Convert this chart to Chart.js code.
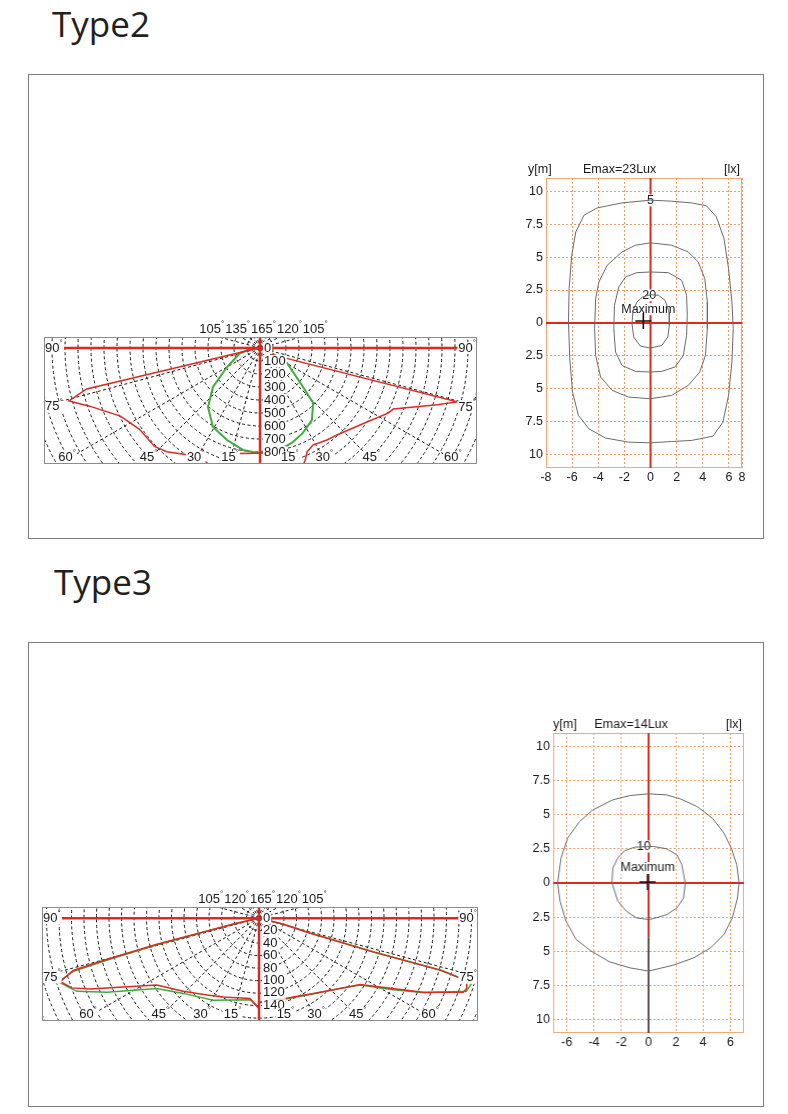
<!DOCTYPE html>
<html>
<head>
<meta charset="utf-8">
<script src="https://cdn.jsdelivr.net/npm/chart.js@4.4.0/dist/chart.umd.min.js"></script>
<style>
  body { margin: 0; background: #fff; width: 788px; height: 1114px; position: relative; overflow: hidden; }
  .title { position: absolute; font-family: "Open Sans", sans-serif; font-size: 35px; line-height: 35px; color: #231f20; }
  .panel { position: absolute; left: 28px; width: 734px; border: 1px solid #7a7a7a; }
  canvas { position: absolute; }
</style>
</head>
<body>
<div class="title" style="left:52px; top:6px;">Type2</div>
<div class="panel" style="top:74px; height:463px;"></div>
<div class="title" style="left:54px; top:564px;">Type3</div>
<div class="panel" style="top:642px; height:463px;"></div>

<script>
// ---- Type2 light distribution (angle from nadir in degrees, intensity in cd) ----
const t2RedLeftAngle  = [90, 78, 76.7, 74.5, 71, 64, 56, 47, 42, 30, 23, 18, 15, 12, 0];
const t2RedLeftCd     = [0, 50, 1370, 1525, 1380, 1195, 1118, 1110, 1073, 962, 979, 931, 1000, 830, 810];
const t2RedRightAngle = [90, 62, 74.7, 72.2, 65.4, 63, 52.4, 41.5, 36, 28.6, 24.3, 22, 19, 16, 12, 0];
const t2RedRightCd    = [0, 113, 1571, 1430, 1128, 1105, 970, 893, 875, 850, 878, 930, 980, 830, 815, 810];
const t2GreenLeftAngle  = [90, 85, 76, 60, 50.3, 41.4, 30.8, 19.7, 9.5, 3.9, 0];
const t2GreenLeftCd     = [0, 60, 158, 293, 470, 605, 707, 752, 795, 802, 805];
const t2GreenRightAngle = [90, 80, 68, 61, 47.8, 44, 35.8, 26.8, 19.3, 14.2, 0];
const t2GreenRightCd    = [0, 40, 83, 238, 447, 588, 683, 732, 766, 785, 800];
const t2CdTicks = [0, 100, 200, 300, 400, 500, 600, 700, 800];
const t2TopAngles = ["105", "135", "165", "120", "105"];

// ---- Type3 light distribution ----
const t3RedLeftAngle  = [90, 77, 76, 75.6, 74.8, 74.2, 72.2, 69.5, 67.1, 63, 56.7, 45.9, 34, 24.3, 6.4, 0];
const t3RedLeftCd     = [0, 40, 90, 170, 253, 309, 334, 320, 293, 244, 196, 169, 149, 139, 130, 145];
const t3GreenLeftAngle = [90, 77, 75.8, 75.3, 74.5, 73.9, 72.3, 68, 63.9, 55.4, 45, 29, 6.2, 0];
const t3GreenLeftCd    = [0, 40, 90, 170, 253, 310, 337, 314, 271, 199, 171, 151, 132, 145];
const t3RedRightAngle = [90, 76, 73.6, 73.4, 73.9, 73.3, 71.2, 70, 65.6, 61.7, 56.6, 48.9, 35.7, 19, 0];
const t3RedRightCd    = [0, 40, 80, 191, 301, 347, 351, 348, 288, 238, 194, 172, 149, 136, 135];
const t3GreenRightAngle = [90, 76, 73.8, 73.6, 74, 72.9, 70.5, 65.6, 61.5, 56.5, 49, 36, 19, 0];
const t3GreenRightCd    = [0, 45, 85, 195, 305, 356, 352, 290, 240, 195, 172, 150, 137, 136];
const t3CdTicks = [0, 20, 40, 60, 80, 100, 120, 140];
const t3TopAngles = ["105", "120", "165", "120", "105"];

const sideAngles = [90, 75, 60, 45, 30, 15];

// ---- Type2 isolux (x, y in m) ----
const t2Iso5X  = [0, 1.62, 3.14, 4.28, 5.04, 5.62, 5.97, 6.23, 6.33, 6.23, 5.97, 5.54, 4.78, 3.14, 1.62, 0, -1.67, -3.44, -4.71, -5.52, -5.97, -6.18, -6.28, -6.23, -6.03, -5.72, -5.09, -4.08, -2.18];
const t2Iso5Y  = [9.32, 9.24, 9.11, 8.89, 8.05, 6.41, 4.13, 1.6, -0.43, -2.96, -5.49, -7.52, -8.58, -8.91, -8.99, -9.09, -9.04, -8.73, -8.03, -7.01, -5.24, -2.71, 0.08, 2.61, 5.14, 6.91, 8.18, 8.73, 9.11];
const t2Iso10X = [0, 1.62, 2.89, 3.65, 4.15, 4.35, 4.35, 4.2, 3.77, 2.89, 1.62, 0, -1.67, -2.94, -3.82, -4.2, -4.28, -4.2, -3.95, -3.32, -2.18, -1.16];
const t2Iso10Y = [6.08, 5.9, 5.39, 4.63, 3.37, 1.6, -0.43, -2.46, -3.72, -4.73, -5.49, -5.75, -5.62, -5.11, -4.1, -2.46, -0.43, 1.85, 3.11, 4.38, 5.39, 5.9];
const t2Iso15X = [0, 1.37, 2.38, 2.76, 2.81, 2.76, 2.51, 1.87, 0.86, 0, -1.16, -2.18, -2.68, -2.81, -2.76, -2.43, -1.92, -1.04];
const t2Iso15Y = [3.87, 3.82, 3.24, 2.1, 0.58, -0.94, -2.46, -3.34, -3.67, -3.72, -3.67, -3.22, -2.2, -0.43, 1.34, 2.73, 3.49, 3.82];
const t2Iso20X = [0.61, 1.11, 1.42, 1.44, 1.32, 0.86, 0, -0.78, -1.29, -1.42, -1.34, -1.04, -0.61, 0];
const t2Iso20Y = [2.1, 1.72, 0.84, -0.18, -1.06, -1.7, -1.9, -1.75, -1.06, -0.05, 0.96, 1.6, 1.97, 2.15];
const t2MaxX = [-0.55], t2MaxY = [0.15];
const t2XTicks = [-8, -6, -4, -2, 0, 2, 4, 6, 7];
const t2XTickLabels = ["-8", "-6", "-4", "-2", "0", "2", "4", "6", "8"];

// ---- Type3 isolux ----
const t3Iso5X  = [0, 1.33, 2.32, 3.56, 4.67, 5.53, 6.07, 6.47, 6.64, 6.52, 6.15, 5.53, 4.54, 3.31, 1.83, 0, -1.38, -2.86, -4.2, -5.31, -6.05, -6.49, -6.67, -6.42, -5.93, -5.06, -4.07, -2.62, -1.38];
const t3Iso5Y  = [6.54, 6.46, 6.17, 5.61, 4.76, 3.66, 2.56, 1.34, 0, -1.1, -2.56, -3.78, -4.76, -5.49, -6.02, -6.46, -6.22, -5.78, -5.0, -4.15, -2.8, -1.34, 0, 1.83, 3.29, 4.51, 5.37, 6.1, 6.41];
const t3Iso10X = [0.35, 1.33, 2.07, 2.44, 2.69, 2.57, 2.07, 1.33, 0.35, 0, -0.89, -1.63, -2.25, -2.69, -2.62, -2.25, -1.75, -1.01];
const t3Iso10Y = [2.68, 2.51, 2.07, 1.34, 0, -1.1, -1.83, -2.32, -2.61, -2.68, -2.56, -2.07, -1.34, 0, 1.1, 1.83, 2.37, 2.63];
const t3MaxX = [-0.07], t3MaxY = [0.07];
const t3XTicks = [-6, -4, -2, 0, 2, 4, 6];
const t3XTickLabels = ["-6", "-4", "-2", "0", "2", "4", "6"];

const yTicks = [-10, -7.5, -5, -2.5, 0, 2.5, 5, 7.5, 10];

const RED = "#dc2a22";
const GREEN = "#3dac3a";
const FONT = '"Liberation Sans", Arial, sans-serif';
const DEG = Math.PI / 180;

function toXY(angles, cds, side) {
  return angles.map((a, i) => ({ x: side * cds[i] * Math.sin(a * DEG), y: -cds[i] * Math.cos(a * DEG) }));
}

function makeCanvas(left, top, w, h) {
  const c = document.createElement("canvas");
  c.width = w; c.height = h;
  c.style.left = left + "px"; c.style.top = top + "px";
  c.style.width = w + "px"; c.style.height = h + "px";
  document.body.appendChild(c);
  return c;
}

// text with a small raised degree sign
function degText(ctx, num, x, y, align, bg) {
  ctx.font = "13px " + FONT;
  const w1 = ctx.measureText(num).width;
  ctx.font = "8px " + FONT;
  const w2 = ctx.measureText("°").width;
  const w = w1 + w2;
  let x0 = align === "left" ? x : align === "right" ? x - w : x - w / 2;
  if (bg) { ctx.fillStyle = "#fff"; ctx.fillRect(x0 - 1, y - 6, w + 2, 12); }
  ctx.fillStyle = "#1a1a1a";
  ctx.textAlign = "left";
  ctx.textBaseline = "middle";
  ctx.font = "13px " + FONT;
  ctx.fillText(num, x0, y);
  ctx.font = "8px " + FONT;
  ctx.fillText("°", x0 + w1, y - 5);
  return w;
}

function polarChart(box, center, k, ringStep, ringMax, cdTicks, topAngles, curves) {
  const pad = { left: 8, top: 22, right: 8, bottom: 8 };
  const canvas = makeCanvas(box.l - pad.left, box.t - pad.top, box.r - box.l + pad.left + pad.right, box.b - box.t + pad.top + pad.bottom);

  const decor = {
    id: "polarDecor",
    beforeDatasetsDraw(chart) {
      const { ctx, chartArea: a, scales: { x, y } } = chart;
      const cx = x.getPixelForValue(0), cy = y.getPixelForValue(0);
      const rp = v => x.getPixelForValue(v) - cx;
      ctx.save();
      ctx.beginPath(); ctx.rect(a.left, a.top, a.width, a.height); ctx.clip();
      ctx.strokeStyle = "#161616"; ctx.lineWidth = 1; ctx.setLineDash([3, 2.5]);
      for (let r = ringStep; r <= ringMax; r += ringStep) {
        ctx.beginPath(); ctx.arc(cx, cy, rp(r), 0, 2 * Math.PI); ctx.stroke();
      }
      const R = rp(ringMax);
      for (let d = 15; d < 180; d += 15) {
        [-1, 1].forEach(s => {
          ctx.beginPath(); ctx.moveTo(cx, cy);
          ctx.lineTo(cx + s * R * Math.sin(d * DEG), cy + R * Math.cos(d * DEG)); ctx.stroke();
        });
      }
      ctx.restore();
    },
    afterDatasetsDraw(chart) {
      const { ctx, chartArea: a, scales: { x, y } } = chart;
      const cx = x.getPixelForValue(0), cy = y.getPixelForValue(0);
      ctx.save();
      // 90 degree axis
      ctx.strokeStyle = RED; ctx.lineWidth = 2.5;
      ctx.beginPath(); ctx.moveTo(a.left + 20, cy); ctx.lineTo(a.right - 11, cy); ctx.stroke();
      // intensity labels
      ctx.font = "13px " + FONT; ctx.textAlign = "left"; ctx.textBaseline = "middle";
      cdTicks.forEach(v => {
        const ty = y.getPixelForValue(-v), tx = cx + 4, s = String(v);
        const w = ctx.measureText(s).width;
        ctx.fillStyle = "#fff"; ctx.fillRect(tx - 1, ty - 6, w + 2, 12);
        ctx.fillStyle = "#1a1a1a"; ctx.fillText(s, tx, ty);
      });
      // angle labels
      sideAngles.forEach(d => {
        if (d === 90) {
          degText(ctx, "90", a.left + 1, cy, "left", true);
          degText(ctx, "90", a.right - 1, cy, "right", true);
        } else if (d === 75) {
          degText(ctx, "75", a.left + 1, cy + (cx - a.left) / Math.tan(d * DEG) + 1, "left", true);
          degText(ctx, "75", a.right - 1, cy + (a.right - cx) / Math.tan(d * DEG) + 1, "right", true);
        } else {
          const off = (a.bottom - cy) * Math.tan(d * DEG) * 0.96;
          degText(ctx, String(d), cx - off, a.bottom - 6.5, "center", true);
          degText(ctx, String(d), cx + off, a.bottom - 6.5, "center", true);
        }
      });
      // top labels
      ctx.font = "13px " + FONT;
      const wNum = topAngles.map(s => ctx.measureText(s).width);
      ctx.font = "8px " + FONT;
      const wDeg = ctx.measureText("°").width + 1;
      const total = wNum.reduce((p, c) => p + c + wDeg, 0);
      let tx = cx + 4 - total / 2;
      topAngles.forEach(s => { tx += degText(ctx, s, tx, a.top - 8, "left", false) + 1; });
      // nadir axis
      ctx.strokeStyle = RED; ctx.lineWidth = 2.5;
      ctx.beginPath(); ctx.moveTo(cx, a.top); ctx.lineTo(cx, a.bottom); ctx.stroke();
      // frame
      ctx.strokeStyle = "#8c8c8c"; ctx.lineWidth = 1;
      ctx.strokeRect(a.left + 0.5, a.top + 0.5, a.width - 1, a.height - 1);
      ctx.restore();
    }
  };

  return new Chart(canvas, {
    type: "scatter",
    data: {
      datasets: curves.map(c => ({
        data: toXY(c.angle, c.cd, c.side),
        showLine: true, borderColor: c.color, borderWidth: c.width,
        pointRadius: 0, tension: 0, clip: 0
      }))
    },
    options: {
      responsive: false, animation: false,
      layout: { padding: pad },
      plugins: { legend: { display: false }, tooltip: { enabled: false } },
      scales: {
        x: { type: "linear", display: false, min: -(center.x - box.l) / k, max: (box.r - center.x) / k },
        y: { type: "linear", display: false, min: -(box.b - center.y) / k, max: (center.y - box.t) / k }
      }
    },
    plugins: [decor]
  });
}

function isoChart(area, xRange, xTicks, xTickLabels, contours, maxX, maxY, labels, header, fadeFrom) {
  const pad = { left: 0, top: 20, right: 16, bottom: 4 };
  const yW = 32, xH = 16;
  const left = area.l - yW, top = area.t - pad.top;
  const canvas = makeCanvas(left, top, area.r - left + pad.right, area.b - top + xH + pad.bottom);

  const datasets = contours.map(c => {
    const pts = c.x.map((v, i) => ({ x: v, y: c.y[i] }));
    pts.push(pts[0]);
    return { data: pts, showLine: true, borderColor: "#6a6a6a", borderWidth: 1, pointRadius: 0, tension: 0, clip: 0 };
  });
  datasets.push({
    data: maxX.map((v, i) => ({ x: v, y: maxY[i] })),
    showLine: false, pointStyle: "cross", pointRadius: 8, borderColor: "#111", borderWidth: 1.6
  });

  const decor = {
    id: "isoDecor",
    beforeDatasetsDraw(chart) {
      const { ctx, chartArea: a, scales: { x, y } } = chart;
      const x0 = x.getPixelForValue(0), y0 = y.getPixelForValue(0);
      ctx.save();
      ctx.strokeStyle = "#f2a878"; ctx.lineWidth = 1;
      ctx.strokeRect(a.left + 0.5, a.top + 0.5, a.width - 1, a.height - 1);
      ctx.lineWidth = 2; ctx.strokeStyle = RED;
      ctx.beginPath(); ctx.moveTo(a.left, y0); ctx.lineTo(a.right, y0); ctx.stroke();
      const yf = fadeFrom == null ? a.bottom : y.getPixelForValue(fadeFrom);
      ctx.beginPath(); ctx.moveTo(x0, a.top); ctx.lineTo(x0, yf); ctx.stroke();
      if (fadeFrom != null) {
        ctx.strokeStyle = "#5e5050";
        ctx.beginPath(); ctx.moveTo(x0, yf); ctx.lineTo(x0, a.bottom); ctx.stroke();
      }
      ctx.restore();
    },
    beforeDatasetDraw(chart, args) {
      if (args.index !== chart.data.datasets.length - 1) return;
      const { ctx, scales: { x, y } } = chart;
      ctx.save();
      ctx.font = "12.5px " + FONT; ctx.textAlign = "center"; ctx.textBaseline = "middle";
      labels.forEach(l => {
        const px = x.getPixelForValue(l.x), py = y.getPixelForValue(l.y);
        const w = ctx.measureText(l.text).width;
        ctx.fillStyle = "#fff"; ctx.fillRect(px - w / 2 - 1, py - 6, w + 2, 12);
        ctx.fillStyle = "#1a1a1a"; ctx.fillText(l.text, px, py);
      });
      ctx.restore();
    },
    afterDatasetsDraw(chart) {
      const { ctx, chartArea: a } = chart;
      ctx.save();
      ctx.font = "12.5px " + FONT; ctx.fillStyle = "#1a1a1a"; ctx.textBaseline = "middle";
      ctx.textAlign = "left";
      ctx.fillText("y[m]", a.left + header.yDx, a.top - 8);
      ctx.fillText(header.emax, a.left + header.eDx, a.top - 8);
      ctx.textAlign = "right";
      ctx.fillText("[lx]", a.right - 2, a.top - 8);
      ctx.restore();
    }
  };

  const gridColor = "rgba(240,145,85,0.9)";
  return new Chart(canvas, {
    type: "scatter",
    data: { datasets },
    options: {
      responsive: false, animation: false,
      layout: { padding: pad },
      plugins: { legend: { display: false }, tooltip: { enabled: false } },
      scales: {
        x: {
          type: "linear", min: xRange[0], max: xRange[1],
          afterBuildTicks: s => { s.ticks = xTicks.map(v => ({ value: v })); },
          afterFit: s => { s.height = xH; },
          ticks: { autoSkip: false, maxRotation: 0, padding: 2, color: "#1a1a1a", font: { family: FONT, size: 12.5 },
                   callback: (v, i) => xTickLabels[i] },
          grid: { color: gridColor, lineWidth: 1, drawTicks: false },
          border: { display: false, dash: [2, 2] }
        },
        y: {
          type: "linear", min: -11, max: 11,
          afterBuildTicks: s => { s.ticks = yTicks.map(v => ({ value: v })); },
          afterFit: s => { s.width = yW; },
          ticks: { autoSkip: false, padding: 3, color: "#1a1a1a", font: { family: FONT, size: 12.5 },
                   callback: v => String(Math.abs(v)) },
          grid: { color: gridColor, lineWidth: 1, drawTicks: false },
          border: { display: false, dash: [2, 2] }
        }
      }
    },
    plugins: [decor]
  });
}

// Type2
polarChart({ l: 44, t: 337, r: 477, b: 464 }, { x: 260, y: 348 }, 0.13, 100, 1900, t2CdTicks, t2TopAngles, [
  { angle: t2RedLeftAngle, cd: t2RedLeftCd, side: -1, color: RED, width: 1.5 },
  { angle: t2RedRightAngle, cd: t2RedRightCd, side: 1, color: RED, width: 1.5 },
  { angle: t2GreenLeftAngle, cd: t2GreenLeftCd, side: -1, color: GREEN, width: 2 },
  { angle: t2GreenRightAngle, cd: t2GreenRightCd, side: 1, color: GREEN, width: 2 }
]);

isoChart({ l: 545.7, t: 177.7, r: 742.3, b: 468.3 }, [-8, 7], t2XTicks, t2XTickLabels,
  [{ x: t2Iso5X, y: t2Iso5Y }, { x: t2Iso10X, y: t2Iso10Y }, { x: t2Iso15X, y: t2Iso15Y }, { x: t2Iso20X, y: t2Iso20Y }],
  t2MaxX, t2MaxY,
  [{ text: "5", x: 0, y: 9.3 }, { text: "20", x: -0.1, y: 2.1 }, { text: "Maximum", x: -0.17, y: 1.05 }],
  { yDx: -18, eDx: 37, emax: "Emax=23Lux" }, null);

// Type3
polarChart({ l: 42, t: 906.5, r: 478, b: 1021 }, { x: 259, y: 917.7 }, 0.625, 20, 400, t3CdTicks, t3TopAngles, [
  { angle: t3RedLeftAngle, cd: t3RedLeftCd, side: -1, color: RED, width: 1.5 },
  { angle: t3GreenLeftAngle, cd: t3GreenLeftCd, side: -1, color: GREEN, width: 1.5 },
  { angle: t3RedRightAngle, cd: t3RedRightCd, side: 1, color: RED, width: 1.5 },
  { angle: t3GreenRightAngle, cd: t3GreenRightCd, side: 1, color: GREEN, width: 1.5 }
]);

isoChart({ l: 553.3, t: 732.7, r: 744, b: 1033.4 }, [-7, 7], t3XTicks, t3XTickLabels,
  [{ x: t3Iso5X, y: t3Iso5Y }, { x: t3Iso10X, y: t3Iso10Y }],
  t3MaxX, t3MaxY,
  [{ text: "10", x: -0.35, y: 2.68 }, { text: "Maximum", x: -0.07, y: 1.1 }],
  { yDx: 0, eDx: 41, emax: "Emax=14Lux" }, -4);
</script>
</body>
</html>
